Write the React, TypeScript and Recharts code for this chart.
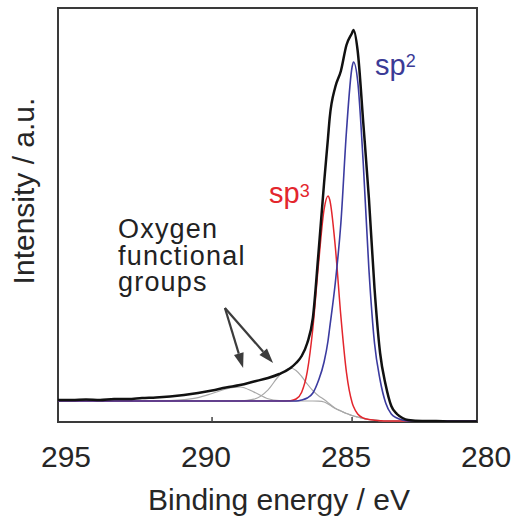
import { LineChart, Line, XAxis, YAxis, ReferenceArea, ReferenceLine } from "recharts";

// binding energy (eV), denser around the C 1s main peak
const energy = [
  295.5, 295.0, 294.5, 294.0, 293.5, 293.0, 292.5, 292.0, 291.5, 291.0,
  290.5, 290.0, 289.5, 289.0, 288.5, 288.0, 287.6, 287.2, 287.0, 286.8,
  286.6, 286.4, 286.2, 286.0, 285.86, 285.8, 285.6, 285.4, 285.2, 285.0,
  284.95, 284.8, 284.6, 284.4, 284.2, 284.0, 283.8, 283.6, 283.4, 283.2,
  283.0, 282.5, 282.0, 281.5, 281.0, 280.54,
];

// measured envelope
const total = [
  23, 23, 23.5, 23, 24, 24, 25, 25.5, 26.5, 28,
  30, 32.5, 35.5, 38, 41.5, 45, 49, 55, 60, 67,
  80, 105, 170, 240, 285, 305, 336, 352, 378, 390,
  393, 372, 300, 225, 135, 70, 38, 17, 9, 5,
  3, 2, 2, 1.5, 1.5, 1.5,
];

// fitted components
const sp2 = [
  22, 22, 22, 22, 22, 22, 22, 22, 22, 22,
  22, 22, 22, 22, 22, 22, 22, 22, 22, 23,
  25, 30, 42.5, 61, 82, 95, 140, 200, 292, 356,
  361, 342, 259, 154, 80, 43, 20, 9, 5, 3,
  2, 2, 2, 2, 2, 2,
];

const sp3 = [
  22, 22, 22, 22, 22, 22, 22, 22, 22, 22,
  22, 22, 22, 22, 22, 22, 22, 22.3, 24, 30.8,
  51.3, 95, 158.5, 213.5, 227, 223.5, 176.5, 106.6, 50.3, 20.5,
  16.4, 9, 5, 3.5, 2.8, 2.3, 2, 2, 2, 2,
  2, 2, 2, 2, 2, 2,
];

const oxygenA = [
  22, 22, 22, 22, 22, 22, 22, 22, 22.4, 23.4,
  25.4, 29.5, 34, 36, 30.9, 24.3, 22.4, 22, 22, 22,
  22, 22, 21.8, 21, 19, 18, 14.5, 12, 9.5, 7.5,
  7, 6, 4.5, 3.5, 2.8, 2.3, 2, 2, 2, 2,
  2, 2, 2, 2, 2, 2,
];

const oxygenB = [
  22, 22, 22, 22, 22, 22, 22, 22, 22, 22,
  22, 22, 22, 22, 23.8, 33.2, 47.5, 55, 52.5, 46.5,
  39, 32.4, 27.3, 23.5, 20.4, 19, 14.8, 12, 9.5, 7.5,
  7, 6, 4.5, 3.5, 2.8, 2.3, 2, 2, 2, 2,
  2, 2, 2, 2, 2, 2,
];

const xTicks = [295, 290, 285, 280];
const markedTicks = [290, 285];
const xDomain: [number, number] = [280.54, 295.5];
const yDomain: [number, number] = [1, 415];

const oxygenLines = ["Oxygen", "functional", "groups"];

// arrows pointing at the oxygen components: [eV, intensity]
const arrowStart: [number, number] = [289.54, 115];
const arrowTips: [number, number][] = [
  [288.89, 55],
  [287.82, 60],
];

const data = energy.map((ev, i) => ({
  ev,
  total: total[i],
  sp2: sp2[i],
  sp3: sp3[i],
  oxA: oxygenA[i],
  oxB: oxygenB[i],
}));

const FONT = "'Liberation Sans', Arial, Helvetica, sans-serif";

function EnergyTick(props: any) {
  const { x, y, payload } = props;
  const v = payload.value;
  return (
    <g>
      {markedTicks.includes(v) && (
        <line x1={x} x2={x} y1={y} y2={y - 5} stroke="#444" strokeWidth={1.5} />
      )}
      <text x={x - 6} y={y + 45} textAnchor="middle" fontSize={30} fontFamily={FONT} fill="#262626">
        {v}
      </text>
    </g>
  );
}

function Arrow(props: any) {
  const { x1, y1, x2, y2 } = props;
  const dx = x2 - x1;
  const dy = y2 - y1;
  const len = Math.sqrt(dx * dx + dy * dy);
  const ux = dx / len;
  const uy = dy / len;
  const head = 15;
  const half = 5;
  const bx = x2 - ux * head;
  const by = y2 - uy * head;
  const pts = `${x2},${y2} ${bx - uy * half},${by + ux * half} ${bx + uy * half},${by - ux * half}`;
  return (
    <g>
      <line x1={x1} y1={y1} x2={bx} y2={by} stroke="#3c3c3c" strokeWidth={2.2} />
      <polygon points={pts} fill="#3c3c3c" />
    </g>
  );
}

export default function App() {
  return (
    <div style={{ position: "absolute", left: 0, top: 0, width: 516, height: 525, background: "#fff" }}>
      <LineChart
        width={516}
        height={525}
        data={data}
        margin={{ top: 8, right: 39, bottom: 63, left: 58 }}
      >
        <XAxis
          type="number"
          dataKey="ev"
          domain={xDomain}
          allowDataOverflow
          reversed
          ticks={xTicks}
          interval={0}
          tick={<EnergyTick />}
          tickLine={false}
          axisLine={false}
          tickSize={0}
          tickMargin={0}
          height={40}
        />
        <YAxis type="number" domain={yDomain} allowDataOverflow hide />
        <Line type="monotone" dataKey="oxA" stroke="#a8a8a8" strokeWidth={1.2} dot={false} isAnimationActive={false} />
        <Line type="monotone" dataKey="oxB" stroke="#a8a8a8" strokeWidth={1.2} dot={false} isAnimationActive={false} />
        <Line type="monotone" dataKey="sp3" stroke="#e3262d" strokeWidth={1.5} dot={false} isAnimationActive={false} />
        <Line type="monotone" dataKey="sp2" stroke="#3b3ba0" strokeWidth={1.6} dot={false} isAnimationActive={false} />
        <Line type="monotone" dataKey="total" stroke="#111" strokeWidth={2.5} dot={false} isAnimationActive={false} />
        {arrowTips.map((tip, i) => (
          <ReferenceLine
            key={i}
            segment={[
              { x: arrowStart[0], y: arrowStart[1] },
              { x: tip[0], y: tip[1] },
            ]}
            shape={<Arrow />}
            ifOverflow="visible"
          />
        ))}
        <ReferenceArea
          x1={xDomain[0]}
          x2={xDomain[1]}
          y1={yDomain[0]}
          y2={yDomain[1]}
          fill="none"
          fillOpacity={0}
          stroke="#3a3a3a"
          strokeWidth={2}
          ifOverflow="visible"
        />
        <text x={375} y={75} fontSize={29} fontFamily={FONT} fill="#3b3b96">
          sp<tspan fontSize={18} dy={-8}>2</tspan>
        </text>
        <text x={269} y={203} fontSize={29} fontFamily={FONT} fill="#e3262d">
          sp<tspan fontSize={18} dy={-6}>3</tspan>
        </text>
        {oxygenLines.map((line, i) => (
          <text
            key={line}
            x={118}
            y={238 + i * 26.5}
            fontSize={27}
            fontFamily={FONT}
            fill="#222"
            letterSpacing={1.2}
          >
            {line}
          </text>
        ))}
        <text x={279} y={510} textAnchor="middle" fontSize={30} fontFamily={FONT} fill="#262626">
          Binding energy / eV
        </text>
        <text
          transform="rotate(-90)"
          x={-191}
          y={34}
          textAnchor="middle"
          fontSize={30}
          fontFamily={FONT}
          fill="#262626"
        >
          Intensity / a.u.
        </text>
      </LineChart>
    </div>
  );
}
